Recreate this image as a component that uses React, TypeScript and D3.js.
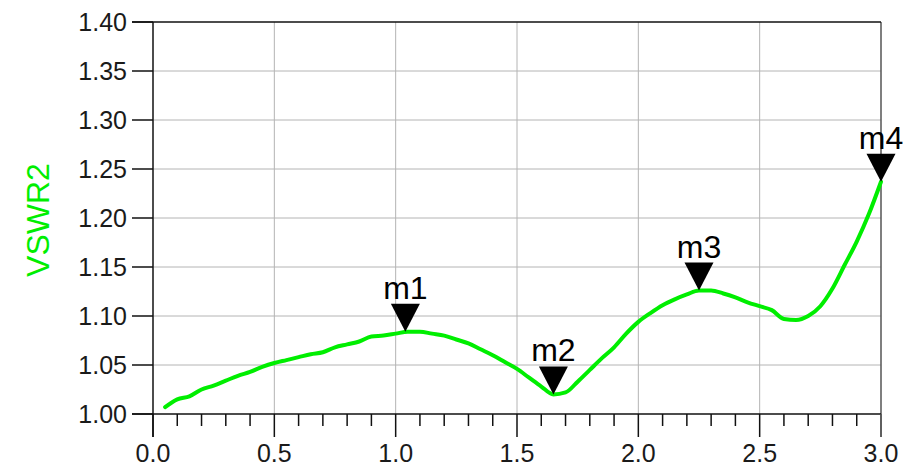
import { useEffect, useRef } from 'react'
import * as d3 from 'd3'

// sweep values
const freq = [
  0.05, 0.1, 0.15, 0.2, 0.25, 0.3, 0.35, 0.4, 0.45, 0.5,
  0.55, 0.6, 0.65, 0.7, 0.75, 0.8, 0.85, 0.9, 0.95, 1.0,
  1.05, 1.1, 1.15, 1.2, 1.25, 1.3, 1.35, 1.4, 1.45, 1.5,
  1.55, 1.6, 1.65, 1.7, 1.75, 1.8, 1.85, 1.9, 1.95, 2.0,
  2.05, 2.1, 2.15, 2.2, 2.25, 2.3, 2.35, 2.4, 2.45, 2.5,
  2.55, 2.6, 2.65, 2.7, 2.75, 2.8, 2.85, 2.9, 2.95, 3.0
]
const vswr2 = [
  1.007, 1.015, 1.018, 1.025, 1.029, 1.034, 1.039, 1.043, 1.048, 1.052,
  1.055, 1.058, 1.061, 1.063, 1.068, 1.071, 1.074, 1.079, 1.080, 1.082,
  1.084, 1.084, 1.082, 1.080, 1.076, 1.072, 1.066, 1.060, 1.053, 1.046,
  1.037, 1.028, 1.020, 1.022, 1.033, 1.045, 1.057, 1.068, 1.082, 1.094,
  1.103, 1.111, 1.117, 1.122, 1.126, 1.126, 1.123, 1.119, 1.114, 1.110,
  1.106, 1.097, 1.096, 1.100, 1.110, 1.128, 1.152, 1.176, 1.204, 1.237
]

const markerNames = ['m1', 'm2', 'm3', 'm4']
const markerFreq = [1.04, 1.65, 2.25, 3.0]
const markerVswr = [1.084, 1.020, 1.126, 1.237]

const xTicks = [0, 0.5, 1.0, 1.5, 2.0, 2.5, 3.0]
const xMinorTicks = [
  0.1, 0.2, 0.3, 0.4, 0.6, 0.7, 0.8, 0.9, 1.1, 1.2, 1.3, 1.4,
  1.6, 1.7, 1.8, 1.9, 2.1, 2.2, 2.3, 2.4, 2.6, 2.7, 2.8, 2.9
]
const yTicks = [1.0, 1.05, 1.1, 1.15, 1.2, 1.25, 1.3, 1.35, 1.4]

const width = 904
const height = 468
const margin = { top: 22, right: 23, bottom: 54, left: 153 }
const font = '"Liberation Sans", Arial, sans-serif'
const green = '#00ee00'

export default function App() {
  const svgRef = useRef<SVGSVGElement>(null)

  useEffect(() => {
    if (!svgRef.current) return
    const svg = d3.select(svgRef.current)
    svg.selectAll('*').remove()

    const x0 = margin.left
    const x1 = width - margin.right
    const y0 = margin.top
    const y1 = height - margin.bottom

    const x = d3.scaleLinear().domain([0, 3]).range([x0, x1])
    const y = d3.scaleLinear().domain([1.0, 1.4]).range([y1, y0])

    svg.append('rect').attr('width', width).attr('height', height).attr('fill', '#fff')

    // grid
    svg.append('g')
      .selectAll('line')
      .data(xTicks.slice(1, -1))
      .enter().append('line')
      .attr('x1', d => x(d)).attr('x2', d => x(d))
      .attr('y1', y0).attr('y2', y1)
      .attr('stroke', '#b4b4b4').attr('stroke-width', 1)

    svg.append('g')
      .selectAll('line')
      .data(yTicks.slice(1, -1))
      .enter().append('line')
      .attr('x1', x0).attr('x2', x1)
      .attr('y1', d => y(d)).attr('y2', d => y(d))
      .attr('stroke', '#b4b4b4').attr('stroke-width', 1)

    // frame
    svg.append('line')
      .attr('x1', x1).attr('x2', x1).attr('y1', y0).attr('y2', y1 + 23)
      .attr('stroke', '#555').attr('stroke-width', 1.5)
    svg.append('line')
      .attr('x1', x0 - 21).attr('x2', x1).attr('y1', y0).attr('y2', y0)
      .attr('stroke', '#111').attr('stroke-width', 1.5)
    svg.append('line')
      .attr('x1', x0).attr('x2', x0).attr('y1', y0).attr('y2', y1 + 23)
      .attr('stroke', '#111').attr('stroke-width', 1.5)
    svg.append('line')
      .attr('x1', x0 - 21).attr('x2', x1).attr('y1', y1).attr('y2', y1)
      .attr('stroke', '#111').attr('stroke-width', 1.5)

    // y ticks
    const yAxis = svg.append('g')
    yTicks.forEach(t => {
      yAxis.append('line')
        .attr('x1', x0 - 21).attr('x2', x0)
        .attr('y1', y(t)).attr('y2', y(t))
        .attr('stroke', '#111').attr('stroke-width', 1.5)
      yAxis.append('text')
        .attr('x', x0 - 26).attr('y', y(t))
        .attr('dy', '0.36em')
        .attr('text-anchor', 'end')
        .style('font-family', font).style('font-size', '25px').style('fill', '#1a1a1a')
        .text(d3.format('.2f')(t))
    })

    // x ticks
    const xAxis = svg.append('g')
    xTicks.forEach(t => {
      xAxis.append('line')
        .attr('x1', x(t)).attr('x2', x(t))
        .attr('y1', y1).attr('y2', y1 + 23)
        .attr('stroke', t === 3 ? '#555' : '#111').attr('stroke-width', 1.5)
      xAxis.append('text')
        .attr('x', x(t)).attr('y', y1 + 48)
        .attr('text-anchor', 'middle')
        .style('font-family', font).style('font-size', '25px').style('fill', '#1a1a1a')
        .text(d3.format('.1f')(t))
    })
    xMinorTicks.forEach(t => {
      xAxis.append('line')
        .attr('x1', x(t)).attr('x2', x(t))
        .attr('y1', y1).attr('y2', y1 + 12)
        .attr('stroke', '#111').attr('stroke-width', 1.5)
    })

    // y axis title
    svg.append('text')
      .attr('transform', `translate(49, ${(y0 + y1) / 2 + 2}) rotate(-90)`)
      .attr('text-anchor', 'middle')
      .style('font-family', font).style('font-size', '32px').style('fill', green)
      .text('VSWR2')

    // trace
    const line = d3.line<number>()
      .x((_, i) => x(freq[i]))
      .y(d => y(d))
      .curve(d3.curveMonotoneX)

    svg.append('path')
      .datum(vswr2)
      .attr('d', line)
      .attr('fill', 'none')
      .attr('stroke', green)
      .attr('stroke-width', 4)
      .attr('stroke-linejoin', 'round')
      .attr('stroke-linecap', 'round')

    // markers
    const triW = 29
    const triH = 28
    markerNames.forEach((name, i) => {
      const mx = x(markerFreq[i])
      const my = y(markerVswr[i])
      svg.append('path')
        .attr('d', `M${mx},${my}L${mx - triW / 2},${my - triH}L${mx + triW / 2},${my - triH}Z`)
        .attr('fill', '#000')
      svg.append('text')
        .attr('x', mx).attr('y', my - triH - 5)
        .attr('text-anchor', 'middle')
        .style('font-family', font).style('font-size', '32px').style('fill', '#000')
        .text(name)
    })
  }, [])

  return (
    <svg
      ref={svgRef}
      width={width}
      height={height}
      style={{ position: 'absolute', left: 0, top: 0 }}
    />
  )
}
